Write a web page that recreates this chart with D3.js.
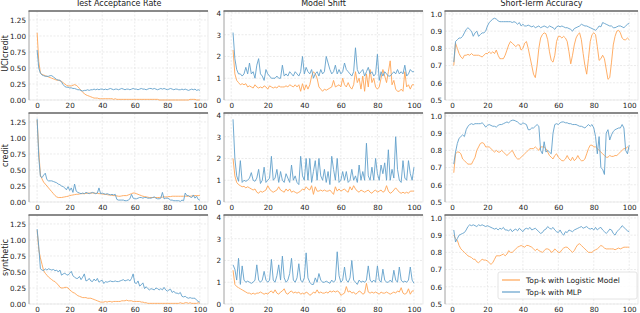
<!DOCTYPE html>
<html>
<head>
<meta charset="utf-8">
<script src="https://cdn.jsdelivr.net/npm/d3@7"></script>
<style>
  body { margin: 0; background: #fff; }
  svg { font-family: "DejaVu Sans", sans-serif; }
  .grid line { stroke: #e6e6e6; stroke-width: 0.8; stroke-dasharray: 2,1.5; }
  .axis text { fill: #222; font-size: 7.2px; }
  .axis path { display: none; }
</style>
</head>
<body>
<div id="chart"></div>
<script>
// data
var datasets = ["UCIcredit", "credit", "synthetic"];
var metrics = ["Test Acceptance Rate", "Model Shift", "Short-Term Accuracy"];
var seriesNames = ["Top-k with Logistic Model", "Top-k with MLP"];

var xAcc = d3.range(0, 101);   // rounds 0..100
var xRound = d3.range(1, 101); // rounds 1..100

var uciAccLogistic = [1.05,0.60,0.42,0.40,0.39,0.38,0.37,0.36,0.35,0.34,
  0.33,0.32,0.31,0.31,0.30,0.29,0.27,0.25,0.23,0.22,
  0.22,0.22,0.23,0.24,0.23,0.21,0.18,0.15,0.12,0.10,
  0.08,0.07,0.06,0.05,0.04,0.03,0.03,0.03,0.02,0.02,
  0.02,0.02,0.02,0.02,0.02,0.02,0.02,0.01,0.02,0.01,
  0.01,0.01,0.01,0.01,0.01,0.01,0.01,0.01,0.01,0.01,
  0.01,0.01,0.01,0.01,0.01,0.01,0.01,0.01,0.01,0.01,
  0.01,0.01,0.01,0.01,0.01,0.00,0.00,0.00,0.00,0.00,
  0.00,0.00,0.00,0.00,0.00,0.00,0.00,0.00,0.00,0.00,
  0.00,0.00,0.00,0.00,0.01,0.01,0.01,0.01,0.00,0.00,0.00];
var uciAccMLP = [0.78,0.50,0.42,0.39,0.38,0.37,0.37,0.37,0.38,0.38,
  0.36,0.34,0.32,0.31,0.31,0.28,0.24,0.21,0.20,0.20,
  0.19,0.19,0.18,0.18,0.17,0.16,0.16,0.15,0.14,0.15,
  0.15,0.16,0.15,0.16,0.16,0.17,0.16,0.17,0.16,0.17,
  0.17,0.16,0.17,0.16,0.17,0.18,0.17,0.16,0.17,0.17,
  0.16,0.17,0.18,0.17,0.16,0.17,0.17,0.16,0.17,0.18,
  0.17,0.17,0.16,0.17,0.18,0.17,0.17,0.16,0.17,0.18,
  0.18,0.17,0.18,0.17,0.16,0.17,0.18,0.17,0.18,0.17,
  0.16,0.17,0.18,0.17,0.16,0.17,0.17,0.16,0.16,0.17,
  0.16,0.17,0.16,0.15,0.16,0.17,0.16,0.17,0.15,0.16,0.15];

var uciShiftLogistic = [2.3,1.2,0.9,0.8,0.7,0.75,0.7,0.75,0.6,0.65,
  0.6,0.55,0.7,0.6,0.55,0.6,0.55,0.65,0.6,0.5,
  0.65,0.6,0.55,0.6,0.55,0.65,0.6,0.6,0.6,0.65,
  0.6,0.7,0.65,0.6,0.7,0.6,0.7,0.4,0.75,0.45,
  0.7,0.5,0.7,1.1,1.3,1.2,1.0,0.6,0.5,0.4,
  0.5,0.45,0.5,0.55,0.6,0.9,0.6,0.65,0.7,0.6,
  1.0,0.7,0.6,0.8,0.6,0.5,0.7,1.3,0.8,1.0,
  0.5,1.1,0.4,1.2,0.6,1.4,0.8,1.0,0.6,0.5,
  0.6,1.0,1.4,1.1,0.8,1.3,1.8,0.7,0.9,0.5,
  0.4,0.4,0.5,0.4,1.3,0.6,0.7,0.5,0.7,0.7];
var uciShiftMLP = [3.1,1.9,1.4,1.2,1.2,1.1,1.2,1.5,1.2,1.7,
  1.2,1.3,1.0,1.6,1.9,1.2,1.1,0.9,1.4,1.2,
  1.1,1.0,1.0,1.0,1.1,1.0,1.0,1.6,1.1,1.2,
  1.1,1.3,1.2,1.1,1.3,1.2,1.1,1.3,2.0,1.2,
  1.5,1.3,1.2,1.4,1.0,1.2,1.3,1.1,1.4,1.2,
  1.3,2.0,1.7,1.4,1.2,1.3,1.6,1.2,1.4,1.2,
  1.3,1.7,1.4,1.3,1.2,1.1,1.3,2.4,1.4,1.2,
  1.3,1.4,1.1,1.3,1.5,1.2,1.3,1.1,1.2,2.1,
  0.9,1.3,1.1,1.3,1.2,1.1,1.1,1.2,1.3,1.2,
  1.4,1.2,1.3,1.2,1.6,1.1,1.2,1.4,1.3,1.3];

var uciShortLogistic = [0.70,0.83,0.80,0.77,0.75,0.74,0.76,0.76,0.765,0.76,
  0.77,0.76,0.76,0.76,0.76,0.755,0.75,0.76,0.77,0.77,
  0.78,0.77,0.78,0.77,0.79,0.76,0.74,0.74,0.74,0.76,
  0.79,0.82,0.84,0.83,0.82,0.81,0.82,0.82,0.79,0.80,
  0.83,0.84,0.80,0.75,0.70,0.65,0.63,0.70,0.80,0.86,
  0.88,0.89,0.885,0.85,0.78,0.73,0.72,0.76,0.84,0.87,
  0.87,0.86,0.87,0.86,0.84,0.78,0.71,0.76,0.82,0.86,
  0.88,0.89,0.85,0.77,0.70,0.65,0.74,0.84,0.88,0.89,
  0.88,0.81,0.73,0.74,0.76,0.74,0.68,0.62,0.63,0.72,
  0.82,0.87,0.90,0.905,0.89,0.86,0.85,0.85,0.86,0.85];
var uciShortMLP = [0.72,0.84,0.85,0.86,0.86,0.87,0.89,0.91,0.92,0.91,
  0.90,0.87,0.89,0.90,0.87,0.88,0.89,0.89,0.90,0.93,
  0.95,0.96,0.97,0.975,0.97,0.96,0.955,0.955,0.955,0.955,
  0.955,0.955,0.955,0.95,0.955,0.95,0.94,0.95,0.93,0.94,
  0.93,0.93,0.935,0.93,0.925,0.93,0.92,0.925,0.93,0.92,
  0.925,0.93,0.925,0.92,0.93,0.925,0.92,0.91,0.925,0.93,
  0.925,0.93,0.925,0.92,0.92,0.915,0.91,0.90,0.915,0.92,
  0.925,0.93,0.94,0.935,0.93,0.93,0.925,0.92,0.915,0.91,
  0.905,0.915,0.93,0.925,0.95,0.945,0.94,0.935,0.93,0.93,
  0.92,0.92,0.925,0.93,0.93,0.925,0.92,0.93,0.94,0.945];

var creditAccLogistic = [1.28,0.80,0.42,0.36,0.31,0.28,0.25,0.22,0.19,0.16,
  0.13,0.10,0.08,0.07,0.07,0.07,0.075,0.08,0.085,0.09,
  0.10,0.105,0.11,0.115,0.12,0.12,0.125,0.13,0.13,0.13,
  0.135,0.135,0.14,0.14,0.14,0.14,0.135,0.135,0.13,0.13,
  0.125,0.12,0.12,0.115,0.11,0.11,0.105,0.10,0.10,0.095,
  0.09,0.09,0.095,0.10,0.10,0.10,0.11,0.12,0.13,0.14,
  0.14,0.13,0.12,0.11,0.10,0.09,0.085,0.08,0.075,0.07,
  0.07,0.07,0.07,0.07,0.07,0.07,0.075,0.075,0.08,0.08,
  0.08,0.085,0.085,0.09,0.09,0.09,0.09,0.09,0.09,0.09,
  0.09,0.09,0.09,0.09,0.09,0.095,0.095,0.10,0.10,0.10,0.10];
var creditAccMLP = [1.30,0.70,0.40,0.38,0.42,0.45,0.35,0.33,0.33,0.33,
  0.32,0.31,0.30,0.28,0.27,0.25,0.24,0.22,0.19,0.24,
  0.18,0.22,0.15,0.28,0.17,0.15,0.14,0.13,0.14,0.13,
  0.15,0.14,0.13,0.14,0.15,0.14,0.13,0.14,0.22,0.13,
  0.14,0.13,0.12,0.13,0.12,0.11,0.12,0.11,0.12,0.04,
  0.03,0.03,0.03,0.03,0.02,0.02,0.03,0.05,0.12,0.06,
  0.05,0.05,0.06,0.07,0.07,0.06,0.07,0.07,0.06,0.06,
  0.06,0.07,0.08,0.06,0.05,0.05,0.06,0.15,0.05,0.06,
  0.06,0.05,0.03,0.03,0.02,0.02,0.02,0.02,0.01,0.03,
  0.02,0.14,0.10,0.10,0.08,0.07,0.11,0.06,0.09,0.04,0.03];

var creditShiftLogistic = [2.0,1.2,0.9,0.8,0.75,0.7,0.72,0.65,0.7,0.65,
  0.6,0.55,0.6,0.45,0.4,0.5,0.45,0.5,0.55,0.75,
  0.6,0.5,0.45,0.5,0.55,0.7,0.55,0.5,0.45,0.6,
  0.5,0.6,0.45,0.5,0.45,0.4,0.45,0.5,0.6,0.55,
  0.7,0.6,0.55,0.75,0.35,0.7,0.5,0.5,0.55,0.5,
  0.55,0.5,0.5,0.55,0.45,0.35,0.7,0.5,0.6,0.5,
  0.55,0.6,0.5,0.45,0.7,0.55,0.75,0.6,0.5,0.45,
  0.55,0.5,0.45,0.5,0.55,0.45,0.4,0.5,0.55,0.45,
  0.5,0.55,0.45,0.5,0.75,0.5,0.4,0.45,0.55,0.65,
  0.55,0.45,0.4,0.45,0.4,0.45,0.4,0.5,0.5,0.5];
var creditShiftMLP = [3.8,2.0,1.2,0.95,1.9,0.9,1.0,0.95,1.0,1.1,
  1.35,1.0,0.95,1.1,1.5,0.85,1.0,1.6,0.9,1.0,
  1.1,2.1,1.0,1.1,1.5,0.9,1.4,1.0,0.9,1.3,
  1.1,0.9,1.7,1.0,1.2,0.9,0.8,2.1,1.2,1.0,
  2.0,1.0,2.0,0.9,1.4,1.9,1.0,2.0,1.2,1.0,
  1.5,0.9,1.4,0.8,2.1,1.5,1.0,2.0,0.9,1.0,
  1.4,1.0,1.4,0.9,1.0,1.5,1.0,1.2,0.9,1.7,
  1.0,1.4,1.0,2.7,1.2,1.0,1.6,1.0,2.0,1.3,
  1.0,1.7,1.3,1.8,1.0,2.4,1.0,1.5,1.1,3.0,
  1.5,1.0,0.9,1.9,1.1,1.0,1.9,1.3,1.0,1.6];

var creditShortLogistic = [0.67,0.78,0.79,0.79,0.78,0.75,0.74,0.73,0.72,0.72,
  0.72,0.74,0.76,0.80,0.82,0.84,0.845,0.84,0.82,0.82,
  0.82,0.81,0.80,0.79,0.80,0.79,0.79,0.80,0.79,0.78,
  0.77,0.78,0.79,0.80,0.78,0.76,0.75,0.75,0.76,0.77,
  0.78,0.79,0.80,0.81,0.81,0.81,0.82,0.81,0.80,0.82,
  0.82,0.82,0.81,0.79,0.77,0.76,0.75,0.77,0.78,0.76,
  0.75,0.74,0.74,0.75,0.77,0.75,0.74,0.76,0.74,0.75,
  0.77,0.75,0.74,0.74,0.75,0.78,0.81,0.83,0.83,0.82,
  0.82,0.81,0.80,0.79,0.78,0.77,0.76,0.76,0.77,0.765,
  0.765,0.77,0.77,0.78,0.79,0.80,0.81,0.81,0.82,0.81];
var creditShortMLP = [0.72,0.79,0.84,0.87,0.88,0.89,0.88,0.92,0.94,0.95,
  0.955,0.95,0.955,0.955,0.955,0.955,0.96,0.95,0.935,0.945,
  0.95,0.945,0.94,0.94,0.935,0.945,0.95,0.95,0.955,0.96,
  0.965,0.96,0.97,0.975,0.975,0.97,0.965,0.955,0.95,0.96,
  0.955,0.95,0.92,0.92,0.93,0.93,0.94,0.95,0.94,0.80,
  0.78,0.85,0.79,0.80,0.79,0.78,0.90,0.95,0.955,0.95,
  0.96,0.965,0.965,0.96,0.96,0.955,0.955,0.95,0.95,0.95,
  0.945,0.94,0.94,0.935,0.93,0.94,0.95,0.94,0.95,0.93,
  0.88,0.78,0.88,0.70,0.69,0.66,0.90,0.92,0.86,0.89,
  0.91,0.92,0.925,0.93,0.93,0.95,0.93,0.80,0.78,0.83];

var synthAccLogistic = [1.15,0.85,0.72,0.62,0.52,0.48,0.45,0.42,0.40,0.38,
  0.36,0.35,0.32,0.30,0.26,0.25,0.25,0.26,0.26,0.25,
  0.22,0.20,0.18,0.17,0.15,0.13,0.12,0.11,0.10,0.10,
  0.10,0.09,0.09,0.09,0.08,0.07,0.06,0.05,0.04,0.03,
  0.03,0.03,0.04,0.03,0.04,0.04,0.03,0.04,0.04,0.04,
  0.04,0.04,0.05,0.05,0.05,0.06,0.05,0.05,0.05,0.04,
  0.04,0.04,0.04,0.04,0.03,0.03,0.02,0.02,0.01,0.01,
  0.01,0.01,0.01,0.01,0.01,0.01,0.01,0.01,0.01,0.01,
  0.01,0.01,0.01,0.01,0.01,0.01,0.01,0.01,0.02,0.01,
  0.01,0.02,0.02,0.01,0.02,0.01,0.01,0.01,0.01,0.02,0.01];
var synthAccMLP = [1.17,0.90,0.55,0.53,0.52,0.55,0.53,0.55,0.54,0.53,
  0.54,0.52,0.53,0.50,0.53,0.45,0.47,0.48,0.46,0.45,
  0.48,0.51,0.44,0.42,0.40,0.40,0.43,0.38,0.42,0.47,
  0.36,0.37,0.40,0.36,0.35,0.39,0.36,0.40,0.34,0.36,
  0.37,0.32,0.35,0.34,0.35,0.36,0.35,0.35,0.36,0.35,
  0.35,0.36,0.37,0.38,0.36,0.37,0.38,0.36,0.40,0.47,
  0.33,0.32,0.36,0.28,0.30,0.33,0.24,0.27,0.24,0.22,
  0.24,0.23,0.22,0.25,0.24,0.22,0.24,0.22,0.26,0.22,
  0.20,0.22,0.23,0.18,0.20,0.17,0.17,0.16,0.18,0.12,
  0.11,0.12,0.10,0.09,0.10,0.09,0.09,0.09,0.06,0.04,0.03];

var synthShiftLogistic = [1.55,0.9,0.8,0.75,0.7,0.65,0.6,0.55,0.5,0.5,
  0.45,0.5,0.45,0.5,0.5,0.55,0.5,0.45,0.5,0.45,
  0.55,0.6,0.5,0.65,0.5,0.45,0.55,0.6,0.7,0.5,
  0.45,0.55,0.6,0.5,0.55,0.5,0.55,0.45,0.5,0.45,
  0.55,0.5,0.4,0.45,0.55,0.5,0.65,0.5,0.55,0.5,
  0.5,0.55,0.5,0.6,0.55,0.6,0.55,0.6,0.55,0.4,
  0.45,0.5,0.8,0.55,0.6,0.5,0.55,0.45,0.5,0.6,
  0.55,0.45,0.5,0.95,0.55,0.5,0.55,0.5,0.55,0.5,
  0.45,0.55,0.5,0.5,0.55,0.5,0.45,0.5,0.55,0.5,
  0.6,0.55,0.75,0.5,0.45,0.5,0.7,0.45,0.6,0.6];
var synthShiftMLP = [1.8,1.6,1.1,2.1,0.9,1.75,1.1,1.0,1.05,1.0,
  0.95,1.0,1.1,1.8,1.1,1.0,1.1,1.5,1.1,1.0,
  1.1,2.05,1.1,1.0,1.3,1.8,1.1,2.2,1.2,1.0,
  1.1,1.4,2.1,1.1,1.0,1.2,1.85,1.1,1.0,1.2,
  2.35,1.2,1.0,0.9,0.9,1.2,1.0,1.4,1.1,1.0,
  1.0,1.05,1.0,0.95,1.1,1.0,1.1,2.4,1.3,1.0,
  1.1,1.7,1.1,1.0,1.2,2.0,1.1,1.0,0.9,1.1,
  1.0,1.05,1.0,1.1,1.75,1.1,1.0,1.1,1.0,1.75,
  1.1,1.0,1.6,1.1,1.0,1.0,1.1,1.0,1.55,1.1,
  1.0,1.7,1.1,1.0,1.05,1.0,1.1,1.7,1.1,0.95];

var synthShortLogistic = [0.90,0.88,0.87,0.84,0.82,0.81,0.80,0.79,0.78,0.775,
  0.77,0.76,0.76,0.745,0.74,0.75,0.76,0.755,0.755,0.75,
  0.74,0.73,0.74,0.76,0.78,0.78,0.78,0.785,0.79,0.78,
  0.79,0.81,0.80,0.80,0.81,0.82,0.83,0.835,0.84,0.835,
  0.83,0.84,0.84,0.835,0.83,0.82,0.81,0.82,0.81,0.805,
  0.80,0.81,0.82,0.82,0.815,0.80,0.805,0.82,0.81,0.80,
  0.80,0.815,0.825,0.83,0.83,0.82,0.81,0.80,0.81,0.83,
  0.845,0.85,0.84,0.83,0.82,0.81,0.80,0.80,0.80,0.81,
  0.815,0.82,0.83,0.84,0.835,0.825,0.82,0.82,0.82,0.82,
  0.82,0.815,0.82,0.825,0.82,0.825,0.83,0.83,0.83,0.83];
var synthShortMLP = [0.93,0.86,0.88,0.90,0.905,0.91,0.915,0.93,0.95,0.96,
  0.955,0.96,0.955,0.95,0.96,0.955,0.96,0.955,0.95,0.955,
  0.95,0.945,0.94,0.935,0.94,0.93,0.94,0.935,0.945,0.93,
  0.93,0.925,0.935,0.92,0.93,0.935,0.925,0.94,0.93,0.92,
  0.935,0.94,0.935,0.945,0.93,0.935,0.94,0.93,0.92,0.91,
  0.915,0.93,0.935,0.95,0.94,0.935,0.945,0.93,0.92,0.915,
  0.93,0.91,0.90,0.92,0.915,0.93,0.925,0.92,0.93,0.935,
  0.94,0.945,0.95,0.94,0.945,0.95,0.94,0.935,0.94,0.93,
  0.945,0.93,0.94,0.945,0.93,0.92,0.91,0.92,0.935,0.93,
  0.91,0.90,0.92,0.93,0.94,0.955,0.945,0.935,0.925,0.92];

// grid of panels: rows = datasets, cols = metrics
var panelData = [
  [[uciAccLogistic, uciAccMLP], [uciShiftLogistic, uciShiftMLP], [uciShortLogistic, uciShortMLP]],
  [[creditAccLogistic, creditAccMLP], [creditShiftLogistic, creditShiftMLP], [creditShortLogistic, creditShortMLP]],
  [[synthAccLogistic, synthAccMLP], [synthShiftLogistic, synthShiftMLP], [synthShortLogistic, synthShortMLP]]
];

var xTicks = [0, 20, 40, 60, 80, 100];
var accTicks = [0, 0.25, 0.5, 0.75, 1.0, 1.25];
var shiftTicks = [0, 1, 2, 3, 4];
var shortTicks = [0.5, 0.6, 0.7, 0.8, 0.9, 1.0];

// layout
var W = 640, H = 313;
var colLayout = [
  { left: 29, right: 208, xs: xAcc, xDomain: [-5, 105], yDomain: [0, 1.39], ticks: accTicks, fmt: d3.format(".2f") },
  { left: 224, right: 423, xs: xRound, xDomain: [-3.95, 104.95], yDomain: [0, 4.09], ticks: shiftTicks, fmt: d3.format("d") },
  { left: 445, right: 638, xs: xRound, xDomain: [-3.95, 104.95], yDomain: [0.5, 1.017], ticks: shortTicks, fmt: d3.format(".1f") }
];
var rowTops = [11, 113, 215];
var rowH = 89;

var colors = ["#ffa556", "#62a0cb"];

var svg = d3.select("#chart")
    .append("svg")
    .attr("width", W)
    .attr("height", H);

panelData.forEach(function (row, r) {
  row.forEach(function (pair, c) {
    var L = colLayout[c];
    var top = rowTops[r], bottom = top + rowH;

    var x = d3.scaleLinear().domain(L.xDomain).range([L.left, L.right]);
    var y = d3.scaleLinear().domain(L.yDomain).range([bottom, top]);

    var g = svg.append("g");

    // gridlines
    var grid = g.append("g").attr("class", "grid");
    grid.selectAll(".gx").data(xTicks).enter().append("line")
        .attr("x1", function (d) { return x(d); }).attr("x2", function (d) { return x(d); })
        .attr("y1", top).attr("y2", bottom);
    grid.selectAll(".gy").data(L.ticks).enter().append("line")
        .attr("x1", L.left).attr("x2", L.right)
        .attr("y1", function (d) { return y(d); }).attr("y2", function (d) { return y(d); });

    // frame
    g.append("rect")
        .attr("x", L.left).attr("y", top)
        .attr("width", L.right - L.left).attr("height", rowH)
        .attr("fill", "none").attr("stroke", "#e6e6e6").attr("stroke-width", 0.8);
    g.append("line")
        .attr("x1", L.left).attr("x2", L.left).attr("y1", top).attr("y2", bottom)
        .attr("stroke", "#9a9a9a").attr("stroke-width", 0.8);
    g.append("line")
        .attr("x1", L.left - 0.5).attr("x2", L.right).attr("y1", top).attr("y2", top)
        .attr("stroke", "#666").attr("stroke-width", 1.4);

    // lines
    var line = d3.line()
        .x(function (d, i) { return x(L.xs[i]); })
        .y(function (d) { return y(d); });
    pair.forEach(function (vals, s) {
      g.append("path")
          .datum(vals)
          .attr("d", line)
          .attr("fill", "none")
          .attr("stroke", colors[s])
          .attr("stroke-width", 0.9)
          .attr("stroke-linejoin", "round");
    });

    // axes
    g.append("g")
        .attr("class", "axis")
        .attr("transform", "translate(0," + bottom + ")")
        .call(d3.axisBottom(x).tickValues(xTicks).tickSize(0).tickPadding(3))
        .attr("font-family", null).attr("font-size", null);
    g.append("g")
        .attr("class", "axis")
        .attr("transform", "translate(" + L.left + ",0)")
        .call(d3.axisLeft(y).tickValues(L.ticks).tickFormat(L.fmt).tickSize(0).tickPadding(3))
        .attr("font-family", null).attr("font-size", null);

    if (r === 0) {
      svg.append("text")
          .attr("x", (L.left + L.right) / 2).attr("y", 6)
          .attr("text-anchor", "middle")
          .attr("font-size", 8).attr("fill", "#222")
          .text(metrics[c]);
    }
    if (c === 0) {
      svg.append("text")
          .attr("transform", "translate(7.5," + (top + rowH / 2 - 2) + ") rotate(-90)")
          .attr("text-anchor", "middle")
          .attr("font-size", 8).attr("fill", "#222")
          .text(datasets[r]);
    }
  });
});

// legend in the bottom-right panel
var lg = svg.append("g").attr("transform", "translate(498,272)");
lg.append("rect")
    .attr("width", 139).attr("height", 27).attr("rx", 2)
    .attr("fill", "#fff").attr("fill-opacity", 0.85)
    .attr("stroke", "#ddd").attr("stroke-width", 0.8);
var items = lg.selectAll(".item").data(seriesNames).enter().append("g")
    .attr("transform", function (d, i) { return "translate(0," + (8 + i * 12) + ")"; });
items.append("line")
    .attr("x1", 4).attr("x2", 22)
    .attr("stroke", function (d, i) { return colors[i]; })
    .attr("stroke-width", 1.2);
items.append("text")
    .attr("x", 28).attr("dy", "0.35em")
    .attr("font-size", 7.5).attr("fill", "#222")
    .text(function (d) { return d; });
</script>
</body>
</html>
